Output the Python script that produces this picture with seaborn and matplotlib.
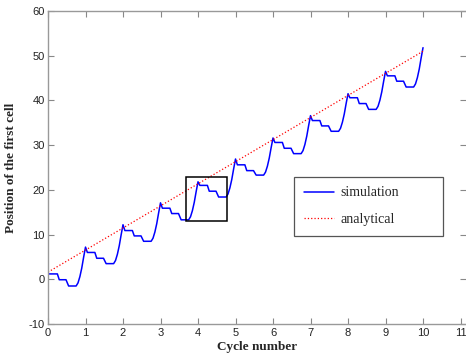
import numpy as np
import pandas as pd
import matplotlib
matplotlib.use("Agg")
import matplotlib.pyplot as plt
from matplotlib.patches import Rectangle
import seaborn as sns

# ---- data ----
cycles = [0, 1, 2, 3, 4, 5, 6, 7, 8, 9]
peaks = [7.2, 12.2, 17.1, 21.8, 26.9, 31.6, 36.6, 41.5, 46.5, 51.8]   # at cycle end
level1 = [1.2, 6.0, 10.9, 15.9, 21.0, 25.6, 30.6, 35.5, 40.6, 45.5]
level2 = [-0.1, 4.7, 9.7, 14.7, 19.7, 24.3, 29.3, 34.3, 39.3, 44.3]
level3 = [-1.5, 3.5, 8.5, 13.3, 18.4, 23.3, 28.1, 33.1, 38.0, 43.0]
# phase (fraction of cycle) of the plateau corners and the rise
phase_plateaus = [0.05, 0.25, 0.30, 0.48, 0.55, 0.75]
rise_phase = [0.80, 0.85, 0.90, 0.95, 1.00]
rise_share = [0.08, 0.24, 0.46, 0.74, 1.00]

analytical_x = [0, 10]
analytical_y = [1.6, 51.0]

xticks = list(range(0, 12))
yticks = list(range(-10, 61, 10))

# ---- build the simulation path ----
sx, sy = [], []
for k in cycles:
    start = level1[k] if k == 0 else peaks[k - 1]
    sx.append(k); sy.append(start)
    vals = [level1[k], level1[k], level2[k], level2[k], level3[k], level3[k]]
    for p, v in zip(phase_plateaus, vals):
        sx.append(k + p); sy.append(v)
    for p, r in zip(rise_phase, rise_share):
        sx.append(k + p); sy.append(level3[k] + r * (peaks[k] - level3[k]))

sim = pd.DataFrame({"x": sx, "y": sy})
ana = pd.DataFrame({"x": analytical_x, "y": analytical_y})

sns.set_style("ticks")
plt.rcParams["font.family"] = ["Liberation Sans", "DejaVu Sans"]
plt.rcParams["axes.unicode_minus"] = False

fig = plt.figure(figsize=(4.66, 3.54), dpi=100)
ax = fig.add_axes([48 / 466, 1 - 324 / 354, (466 - 48) / 466, (324 - 11) / 354])

sns.lineplot(data=sim, x="x", y="y", ax=ax, color="#0000ff", lw=1.1,
             label="simulation", sort=False, estimator=None)
sns.lineplot(data=ana, x="x", y="y", ax=ax, color="#ff0000", lw=0.9,
             linestyle=":", label="analytical", sort=False, estimator=None)

ax.add_patch(Rectangle((3.667, 13.1), 4.77 - 3.667, 22.8 - 13.1,
                       fill=False, edgecolor="black", lw=1.1, zorder=5))

ax.set_xlim(0, 11.146)
ax.set_ylim(-10, 60)
ax.set_xticks(xticks)
ax.set_yticks(yticks)
ax.tick_params(direction="in", length=4, width=0.8, color="#888888",
               labelsize=8, labelcolor="#222222", top=True, right=True, pad=2.5)
ax.tick_params(axis="x", pad=3.2)
for side in ["left", "bottom", "top"]:
    ax.spines[side].set_color("#999999")
    ax.spines[side].set_linewidth(1.0)
ax.spines["right"].set_visible(False)

serif = {"family": ["Liberation Serif", "DejaVu Serif"], "weight": "bold", "size": 9.5}
ax.set_xlabel("Cycle number", fontdict=serif, labelpad=1.5)
ax.set_ylabel("Position of the first cell", fontdict=serif, labelpad=8)

leg = ax.legend(loc="lower left", bbox_to_anchor=(0.589, 0.281, 0.356, 0.198),
                mode="expand", prop={"family": ["Liberation Serif"], "size": 10},
                frameon=True, fancybox=False, framealpha=1, borderpad=0.7,
                labelspacing=1.0, handlelength=2.2, handletextpad=0.4,
                borderaxespad=0)
leg.get_frame().set_edgecolor("#555555")
leg.get_frame().set_linewidth(0.9)

fig.savefig("out.png", dpi=100)
